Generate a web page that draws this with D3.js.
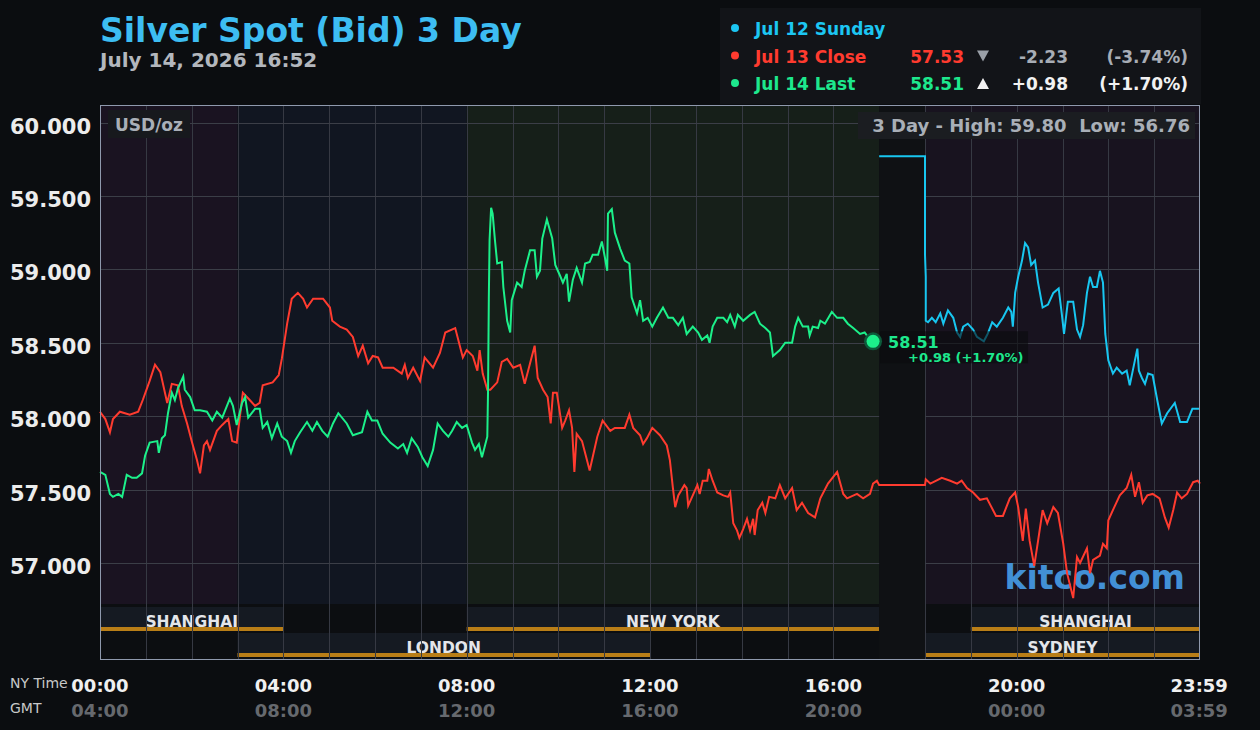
<!DOCTYPE html>
<html lang="en">
<head>
<meta charset="UTF-8">
<title>Silver Spot (Bid) 3 Day</title>
<script src="https://cdn.jsdelivr.net/npm/d3@7"></script>
<style>
  html, body { margin: 0; padding: 0; background: #0b0d10; }
  svg { display: block; font-family: "DejaVu Sans", sans-serif; }
</style>
</head>
<body>
<svg id="chart" width="1260" height="730"></svg>
<script>
// ---- data (minutes after 00:00 NY time, USD/oz) ----
var jul13 = [[0,58.03],[7,57.98],[13,57.89],[17,57.98],[26,58.03],[39,58.01],[50,58.03],[56,58.11],[65,58.24],[72,58.35],[79,58.30],[88,58.09],[94,58.22],[102,58.21],[107,58.07],[114,57.95],[120,57.83],[127,57.70],[131,57.61],[136,57.80],[140,57.83],[144,57.77],[153,57.90],[160,57.94],[168,57.98],[173,57.83],[179,57.82],[187,58.16],[196,58.11],[203,58.07],[209,58.09],[213,58.21],[226,58.23],[234,58.28],[238,58.39],[245,58.63],[251,58.80],[259,58.84],[266,58.80],[271,58.74],[279,58.80],[292,58.80],[301,58.74],[304,58.65],[314,58.61],[323,58.59],[331,58.54],[338,58.41],[344,58.48],[351,58.36],[357,58.41],[364,58.40],[370,58.33],[384,58.33],[395,58.29],[399,58.35],[403,58.26],[410,58.33],[419,58.24],[425,58.40],[436,58.33],[445,58.43],[452,58.57],[465,58.60],[471,58.48],[475,58.40],[480,58.45],[488,58.41],[494,58.31],[497,58.45],[501,58.29],[507,58.18],[511,58.18],[520,58.23],[526,58.37],[533,58.39],[541,58.33],[550,58.35],[556,58.22],[563,58.36],[569,58.48],[573,58.26],[580,58.18],[586,58.13],[590,57.95],[593,58.16],[598,58.16],[605,57.92],[609,57.97],[614,58.04],[618,57.92],[621,57.62],[624,57.88],[631,57.83],[636,57.73],[641,57.63],[651,57.86],[658,57.97],[668,57.90],[674,57.92],[681,57.92],[687,57.92],[693,58.01],[698,57.92],[707,57.87],[711,57.81],[716,57.85],[723,57.92],[733,57.87],[742,57.80],[746,57.70],[750,57.51],[753,57.38],[757,57.46],[765,57.53],[768,57.51],[770,57.39],[776,57.46],[782,57.53],[785,57.47],[789,57.56],[795,57.56],[797,57.64],[802,57.56],[808,57.48],[816,57.46],[822,57.45],[825,57.48],[829,57.27],[834,57.22],[837,57.17],[842,57.23],[847,57.30],[851,57.22],[855,57.30],[857,57.19],[861,57.36],[867,57.41],[871,57.34],[876,57.45],[884,57.44],[890,57.53],[897,57.44],[906,57.51],[912,57.36],[919,57.41],[927,57.34],[936,57.31],[943,57.44],[953,57.54],[965,57.62],[973,57.47],[978,57.44],[991,57.47],[999,57.44],[1008,57.47],[1012,57.54],[1017,57.56],[1020,57.53],[1080,57.53],[1081,57.57],[1087,57.54],[1102,57.58],[1113,57.56],[1122,57.54],[1128,57.56],[1135,57.51],[1143,57.48],[1152,57.43],[1161,57.44],[1173,57.32],[1182,57.32],[1191,57.44],[1198,57.48],[1202,57.38],[1208,57.15],[1212,57.37],[1217,57.15],[1223,56.98],[1228,57.15],[1234,57.36],[1240,57.27],[1248,57.38],[1254,57.34],[1261,57.13],[1266,56.93],[1274,56.76],[1279,57.04],[1283,57.00],[1292,57.10],[1296,56.93],[1300,57.02],[1309,57.05],[1313,57.13],[1318,57.10],[1320,57.29],[1326,57.36],[1335,57.46],[1344,57.51],[1350,57.60],[1355,57.45],[1360,57.55],[1365,57.41],[1371,57.46],[1378,57.47],[1387,57.44],[1394,57.31],[1399,57.24],[1405,57.36],[1410,57.48],[1416,57.44],[1423,57.47],[1431,57.55],[1437,57.56],[1440,57.54]];

var jul14 = [[0,57.62],[7,57.60],[13,57.47],[17,57.45],[24,57.47],[29,57.45],[35,57.60],[42,57.58],[48,57.58],[55,57.61],[59,57.73],[65,57.82],[75,57.83],[77,57.75],[81,57.85],[85,57.87],[89,58.02],[94,58.16],[98,58.11],[102,58.19],[109,58.27],[111,58.18],[118,58.13],[124,58.04],[131,58.04],[140,58.03],[147,57.97],[153,58.03],[160,57.99],[170,58.12],[174,58.07],[179,57.94],[186,58.09],[190,58.13],[194,57.99],[203,58.05],[209,58.05],[213,57.92],[219,57.96],[225,57.85],[232,57.95],[238,57.86],[245,57.83],[250,57.75],[255,57.83],[262,57.89],[271,57.96],[278,57.90],[284,57.96],[291,57.90],[298,57.86],[305,57.95],[312,58.02],[323,57.95],[331,57.87],[343,57.89],[350,58.03],[356,57.97],[363,57.97],[370,57.88],[380,57.82],[390,57.78],[397,57.81],[402,57.75],[408,57.85],[416,57.79],[422,57.72],[429,57.66],[436,57.77],[442,57.95],[449,57.90],[456,57.86],[461,57.90],[467,57.96],[474,57.92],[480,57.94],[487,57.82],[491,57.77],[496,57.81],[500,57.72],[504,57.80],[507,57.86],[508,58.18],[509,58.80],[510,59.20],[512,59.42],[514,59.38],[517,59.20],[520,59.04],[526,59.05],[528,58.88],[533,58.65],[537,58.57],[539,58.79],[546,58.91],[552,58.88],[556,58.99],[563,59.13],[569,59.13],[572,58.95],[576,58.99],[579,59.21],[585,59.34],[592,59.21],[596,59.03],[602,58.96],[606,58.91],[611,58.97],[614,58.78],[619,58.93],[624,59.01],[631,58.91],[635,59.04],[641,59.05],[645,59.10],[652,59.10],[657,59.19],[661,59.08],[664,58.99],[665,59.38],[670,59.41],[674,59.25],[681,59.14],[687,59.06],[693,59.04],[696,58.81],[703,58.70],[707,58.79],[711,58.65],[717,58.67],[723,58.61],[729,58.67],[737,58.74],[744,58.67],[750,58.67],[757,58.62],[763,58.67],[768,58.56],[776,58.61],[783,58.57],[788,58.52],[795,58.55],[798,58.50],[802,58.61],[808,58.67],[816,58.67],[821,58.64],[825,58.69],[831,58.61],[835,58.69],[842,58.65],[851,58.69],[857,58.71],[864,58.63],[871,58.60],[877,58.57],[881,58.41],[890,58.45],[897,58.50],[906,58.50],[910,58.61],[914,58.67],[920,58.61],[927,58.61],[929,58.55],[933,58.61],[940,58.60],[943,58.65],[949,58.63],[958,58.71],[965,58.67],[973,58.67],[979,58.63],[986,58.60],[995,58.56],[1001,58.57],[1008,58.52],[1012,58.51]];

var jul12 = [[1020,59.77],[1080,59.77],[1080,59.10],[1081,58.95],[1081,58.65],[1084,58.64],[1089,58.67],[1094,58.64],[1100,58.70],[1104,58.63],[1110,58.72],[1117,58.67],[1122,58.57],[1126,58.54],[1130,58.61],[1136,58.63],[1143,58.59],[1148,58.54],[1157,58.51],[1162,58.56],[1168,58.64],[1174,58.61],[1182,58.67],[1189,58.74],[1193,58.71],[1195,58.61],[1198,58.84],[1202,58.95],[1207,59.06],[1211,59.18],[1215,59.15],[1219,59.03],[1224,59.06],[1228,58.91],[1234,58.74],[1241,58.76],[1248,58.84],[1255,58.87],[1259,58.70],[1262,58.56],[1267,58.78],[1274,58.78],[1279,58.59],[1283,58.54],[1287,58.62],[1292,58.84],[1296,58.95],[1300,58.88],[1305,58.88],[1309,58.99],[1313,58.91],[1316,58.56],[1320,58.38],[1326,58.29],[1331,58.33],[1338,58.29],[1344,58.31],[1348,58.21],[1352,58.31],[1358,58.46],[1360,58.31],[1364,58.26],[1368,58.22],[1372,58.29],[1378,58.28],[1384,58.11],[1390,57.95],[1397,58.02],[1407,58.09],[1414,57.96],[1423,57.96],[1430,58.05],[1440,58.05]];

var yTicks = [57, 57.5, 58, 58.5, 59, 59.5, 60];
var xTicks = [0, 240, 480, 720, 960, 1200, 1439];
var nyLabels = ["00:00", "04:00", "08:00", "12:00", "16:00", "20:00", "23:59"];
var gmtLabels = ["04:00", "08:00", "12:00", "16:00", "20:00", "00:00", "03:59"];

// background zones (minutes)
var zones = [
  { from: 0, to: 180, color: "#1a1321" },
  { from: 180, to: 480, color: "#111621" },
  { from: 480, to: 1020, color: "#161f19" },
  { from: 1080, to: 1440, color: "#18131f" }
];
var closedZone = { from: 1020, to: 1080, color: "#0f1114" };

// trading sessions: row 0 / row 1
var sessions = [
  { name: "SHANGHAI", from: 0, to: 240, row: 0 },
  { name: "NEW YORK", from: 480, to: 1020, row: 0 },
  { name: "SHANGHAI", from: 1140, to: 1440, row: 0 },
  { name: "LONDON", from: 180, to: 720, row: 1 },
  { name: "SYDNEY", from: 1080, to: 1440, row: 1 }
];

var legendRows = [
  { label: "Jul 12 Sunday", color: "#1cc6f2" },
  { label: "Jul 13 Close", color: "#ff3b2f", price: "57.53", arrow: "down", change: "-2.23", pct: "(-3.74%)", tone: "#a7adb5" },
  { label: "Jul 14 Last", color: "#1de88d", price: "58.51", arrow: "up", change: "+0.98", pct: "(+1.70%)", tone: "#f2f2f2" }
];

var lastPrice = 58.51, lastMinute = 1012;

// ---- drawing ----
var svg = d3.select("#chart");
var W = 1260, H = 730;
var pLeft = 100, pRight = 1200, pTop = 105, pBottom = 660, shadeBottom = 604;

var x = d3.scaleLinear().domain([0, 1440]).range([pLeft, pRight]);
var y = d3.scaleLinear().domain([56.72, 60.12]).range([shadeBottom, pTop]);

svg.append("rect").attr("width", W).attr("height", H).attr("fill", "#0b0d10");
svg.append("rect").attr("x", pLeft).attr("y", pTop).attr("width", pRight - pLeft).attr("height", pBottom - pTop).attr("fill", "#0c0e11");

svg.selectAll(".zone").data(zones).enter().append("rect")
  .attr("x", d => x(d.from)).attr("y", pTop)
  .attr("width", d => x(d.to) - x(d.from)).attr("height", shadeBottom - pTop)
  .attr("fill", d => d.color);

// session bars
var rowY = [607, 633];
var sess = svg.selectAll(".sess").data(sessions).enter().append("g");
sess.append("rect")
  .attr("x", d => x(d.from)).attr("y", d => rowY[d.row])
  .attr("width", d => x(d.to) - x(d.from)).attr("height", 24)
  .attr("fill", "#151a22");

// grid
var hours = d3.range(1, 24).filter(h => h !== 17);
svg.selectAll(".vgrid").data(hours).enter().append("line")
  .attr("x1", h => Math.round(x(h * 60)) + 0.5).attr("x2", h => Math.round(x(h * 60)) + 0.5)
  .attr("y1", pTop).attr("y2", pBottom)
  .attr("stroke", "#363943").attr("stroke-width", 1);
svg.selectAll(".hgrid").data(yTicks).enter().append("line")
  .attr("x1", pLeft).attr("x2", pRight)
  .attr("y1", d => Math.round(y(d)) + 0.5).attr("y2", d => Math.round(y(d)) + 0.5)
  .attr("stroke", "#3b3e47").attr("stroke-width", 1);

svg.append("rect")
  .attr("x", x(closedZone.from)).attr("y", pTop)
  .attr("width", x(closedZone.to) - x(closedZone.from)).attr("height", pBottom - pTop)
  .attr("fill", closedZone.color);

sess.append("rect")
  .attr("x", d => x(d.from)).attr("y", d => rowY[d.row] + 20)
  .attr("width", d => x(d.to) - x(d.from)).attr("height", 4)
  .attr("fill", "#b97e17");
sess.append("text")
  .attr("x", d => (x(d.from) + x(d.to)) / 2).attr("y", d => rowY[d.row] + 20)
  .attr("text-anchor", "middle")
  .attr("font-size", 15.5).attr("font-weight", "bold").attr("fill", "#e4e6ea")
  .text(d => d.name);

// watermark
svg.append("text").attr("x", 1185).attr("y", 589).attr("text-anchor", "end")
  .attr("font-size", 33).attr("font-weight", "bold").attr("fill", "#4290d6")
  .text("kitco.com");

// lines
var line = d3.line().x(d => x(d[0])).y(d => y(d[1]));
svg.append("path").datum(jul13).attr("d", line).attr("fill", "none").attr("stroke", "#ff3b2f").attr("stroke-width", 2);
svg.append("path").datum(jul12).attr("d", line).attr("fill", "none").attr("stroke", "#18c6f0").attr("stroke-width", 2);
svg.append("path").datum(jul14).attr("d", line).attr("fill", "none").attr("stroke", "#1cf08a").attr("stroke-width", 2);

// last price marker
var lx = x(lastMinute), ly = y(lastPrice);
svg.append("rect").attr("x", lx + 7).attr("y", ly - 10).attr("width", 148).attr("height", 32)
  .attr("fill", "#0a0b0d").attr("fill-opacity", 0.6);
svg.append("circle").attr("cx", lx).attr("cy", ly).attr("r", 9).attr("fill", "#0d5a3b");
svg.append("circle").attr("cx", lx).attr("cy", ly).attr("r", 6.5).attr("fill", "#1cf08a");
svg.append("text").attr("x", lx + 15).attr("y", ly + 7)
  .attr("font-size", 16).attr("font-weight", "bold").attr("fill", "#1de88d").text(lastPrice.toFixed(2));
svg.append("text").attr("x", lx + 35).attr("y", ly + 21)
  .attr("font-size", 13).attr("font-weight", "bold").attr("fill", "#1de88d").text("+0.98 (+1.70%)");

// y axis labels
svg.selectAll(".ylab").data(yTicks).enter().append("text")
  .attr("x", 91).attr("y", d => y(d) + 11).attr("text-anchor", "end")
  .attr("font-size", 21).attr("font-weight", "bold").attr("fill", "#ececec")
  .text(d => d3.format(".3f")(d));

// x axis labels
svg.selectAll(".xlab").data(xTicks).enter().append("text")
  .attr("x", d => x(d)).attr("y", 692).attr("text-anchor", "middle")
  .attr("font-size", 18).attr("font-weight", "bold").attr("fill", "#f0f0f0")
  .text((d, i) => nyLabels[i]);
svg.selectAll(".glab").data(xTicks).enter().append("text")
  .attr("x", d => x(d)).attr("y", 717).attr("text-anchor", "middle")
  .attr("font-size", 18).attr("font-weight", "bold").attr("fill", "#66696e")
  .text((d, i) => gmtLabels[i]);
svg.append("text").attr("x", 10).attr("y", 688).attr("font-size", 14).attr("fill", "#c8c8c8").text("NY Time");
svg.append("text").attr("x", 10).attr("y", 713).attr("font-size", 14).attr("fill", "#c8c8c8").text("GMT");

// plot border
svg.append("rect").attr("x", pLeft + 0.5).attr("y", pTop + 0.5)
  .attr("width", pRight - pLeft - 1).attr("height", pBottom - pTop - 1)
  .attr("fill", "none").attr("stroke", "#8f99ad").attr("stroke-width", 1);

// in-plot captions
svg.append("rect").attr("x", 108).attr("y", 110).attr("width", 82).attr("height", 28).attr("fill", "#17191d");
svg.append("text").attr("x", 115).attr("y", 131).attr("font-size", 17).attr("font-weight", "bold")
  .attr("fill", "#a9afb7").text("USD/oz");
svg.append("rect").attr("x", 858).attr("y", 112).attr("width", 337).attr("height", 27).attr("fill", "#1b1d21");
svg.append("text").attr("x", 1190).attr("y", 132).attr("text-anchor", "end").attr("font-size", 18)
  .attr("font-weight", "bold").attr("fill", "#a9afb7").style("white-space", "pre")
  .text("3 Day - High: 59.80  Low: 56.76");

// title
svg.append("text").attr("x", 100).attr("y", 42).attr("font-size", 33).attr("font-weight", "bold")
  .attr("fill", "#3dbdf2").text("Silver Spot (Bid) 3 Day");
svg.append("text").attr("x", 100).attr("y", 67).attr("font-size", 20).attr("font-weight", "bold")
  .attr("fill", "#b3b7bd").text("July 14, 2026 16:52");

// legend
svg.append("rect").attr("x", 720).attr("y", 8).attr("width", 481).attr("height", 96).attr("fill", "#121418");
var lg = svg.selectAll(".lg").data(legendRows).enter().append("g")
  .attr("transform", (d, i) => "translate(0," + (35 + i * 27.5) + ")");
lg.append("circle").attr("cx", 735).attr("cy", -7).attr("r", 4).attr("fill", d => d.color);
lg.append("text").attr("x", 755).attr("font-size", 17).attr("font-weight", "bold")
  .attr("fill", d => d.color).text(d => d.label);
var lgv = lg.filter(d => d.price);
lgv.append("text").attr("x", 964).attr("text-anchor", "end").attr("font-size", 17).attr("font-weight", "bold")
  .attr("fill", d => d.color).text(d => d.price);
lgv.append("path")
  .attr("d", d => d.arrow === "down" ? "M977,-12L989,-12L983,-1Z" : "M977,-1L989,-1L983,-12Z")
  .attr("fill", d => d.arrow === "down" ? "#9aa0a8" : "#f2f2f2");
lgv.append("text").attr("x", 1068).attr("text-anchor", "end").attr("font-size", 17).attr("font-weight", "bold")
  .attr("fill", d => d.tone).text(d => d.change);
lgv.append("text").attr("x", 1188).attr("text-anchor", "end").attr("font-size", 17).attr("font-weight", "bold")
  .attr("fill", d => d.tone).text(d => d.pct);
</script>
</body>
</html>
